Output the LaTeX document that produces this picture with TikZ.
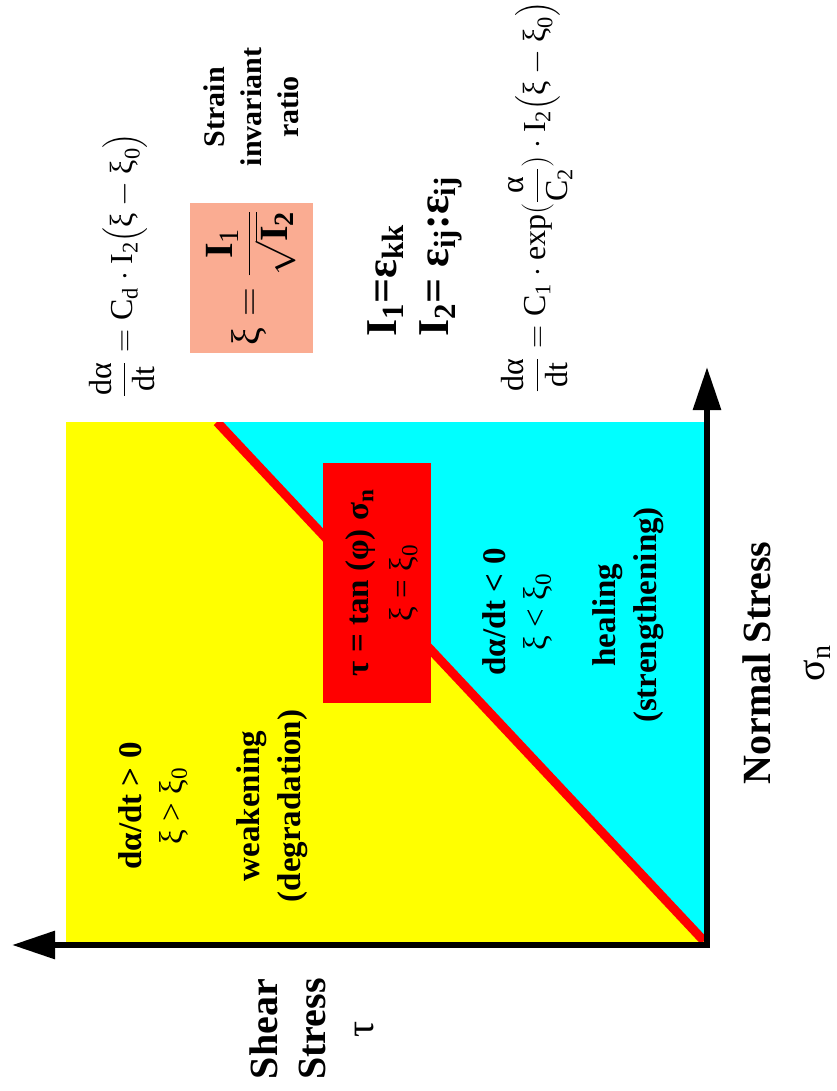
\documentclass[tikz,border=0pt]{standalone}
\usepackage{fix-cm}
\usepackage{amsmath}
\usepackage{fontspec}
\setmainfont{Liberation Serif}
\usetikzlibrary{arrows.meta}

\definecolor{salmon}{RGB}{250,172,146}
\definecolor{weakfill}{RGB}{255,255,0}
\definecolor{healfill}{RGB}{0,255,255}
\definecolor{failred}{RGB}{255,0,0}

\begin{document}
\begin{tikzpicture}[x=1pt, y=-1pt]
        \tikzstyle{axis} = [line width=6pt, line join=miter, {Triangle[length=43pt,width=27pt]}-{Triangle[length=43pt,width=27pt]}]
        \tikzstyle{lbl} = [rotate=90, align=center, inner sep=0pt]
        \tikzstyle{reglbl} = [lbl, font=\fontsize{33}{41}\selectfont\bfseries]
        \tikzstyle{eqn} = [lbl, font=\fontsize{32}{38}\selectfont]
        \useasboundingbox (0,0) rectangle (836,1091);
        % regions
        \coordinate (O) at (707,945);
        \coordinate (tauEnd) at (12,945);
        \coordinate (sigEnd) at (707,367);
        \coordinate (lineTop) at (217,422);
        \coordinate (lineEnd) at (704,941);
        \fill[weakfill] (66,422) rectangle (707,942);
        \fill[healfill] (lineTop) -- (707,422) -- (707,942) -- cycle;
        \draw[failred, line width=9pt] (lineTop) -- (lineEnd);
        \fill[white] (60,400) rectangle (300,421.5);
        \draw[axis] (tauEnd) -- (O) -- (sigEnd);
        % failure line label
        \node (fail) [lbl, fill=failred, minimum width=240pt, minimum height=108pt] at (377,583) {};
        \node (failtxt) [lbl, font=\fontsize{33}{44}\selectfont] at (382,583) {\textbf{τ = tan (φ) σ\textsubscript{n}}\\ξ = ξ\textsubscript{0}};
        % region labels
        \node (wk1) [reglbl] at (153,806) {dα/dt > 0\\\mdseries ξ > ξ\textsubscript{0}};
        \node (wk2) [reglbl] at (272,806) {weakening\\(degradation)};
        \node (hl1) [reglbl] at (517,612) {dα/dt < 0\\\mdseries ξ < ξ\textsubscript{0}};
        \node (hl2) [reglbl] at (628,615) {healing\\(strengthening)};
        % axes
        \node (sigLbl) [lbl, font=\fontsize{40}{54}\selectfont] at (787,663) {\textbf{Normal Stress}\\σ\textsubscript{n}};
        \node (tauLbl) [lbl, font=\fontsize{40}{48}\selectfont] at (312,1029) {\textbf{Shear}\\\textbf{Stress}\\τ};
        % equations
        \node (degr) [eqn] at (122,265) {$\dfrac{\text{dα}}{\text{dt}}=\text{C}_{\text{d}}\cdot\text{I}_{\text{2}}\big(\text{ξ}-\text{ξ}_{\text{0}}\big)$};
        \node (ratio) [lbl, fill=salmon, minimum width=149pt, minimum height=123pt] at (251,278) {};
        \node (ratiotxt) [lbl, font=\fontsize{40}{46}\selectfont] at (251,278) {$\text{ξ}=\dfrac{\textbf{I}_{\text{1}}}{\sqrt{\textbf{I}_{\textbf{2}}}}$};
        \node (ratioLbl) [lbl, font=\fontsize{30}{37}\selectfont\bfseries] at (251,107) {Strain\\invariant\\ratio};
        \node (inv) [lbl, anchor=west, align=left, font=\fontsize{44}{52}\selectfont\bfseries] at (415,337) {I\textsubscript{1}=ε\textsubscript{kk}\\I\textsubscript{2}= ε\textsubscript{ij}:ε\textsubscript{ij}};
        \node (heal) [eqn] at (537,197) {$\dfrac{\text{dα}}{\text{dt}}=\text{C}_{\text{1}}\cdot\text{exp}(\dfrac{\text{α}}{\text{C}_{\text{2}}})\cdot\text{I}_{\text{2}}\big(\text{ξ}-\text{ξ}_{\text{0}}\big)$};
\end{tikzpicture}
\end{document}
